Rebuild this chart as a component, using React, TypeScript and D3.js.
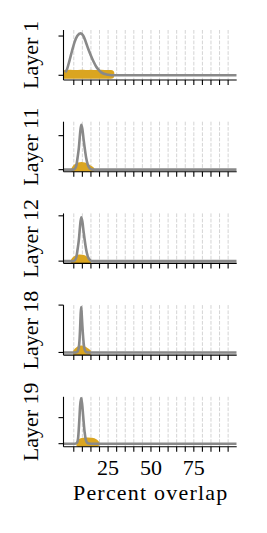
import React from "react";
import * as d3 from "d3";

const layerNames = ["Layer 1", "Layer 11", "Layer 12", "Layer 18", "Layer 19"];

const xTickValues = [5, 10, 15, 20, 25, 30, 35, 40, 45, 50, 55, 60, 65, 70, 75, 80, 85, 90, 95];
const xLabeledTicks = [25, 50, 75];
const xLabel = "Percent overlap";

// y tick values (unlabeled) and y domains per layer
const yTicksPerLayer = [
  [0, 0.08],
  [0, 0.2],
  [0, 0.3],
  [0, 0.5],
  [0, 0.2],
];
const yDomains = [
  [-0.0096, 0.0923],
  [-0.012, 0.282],
  [-0.015, 0.316],
  [-0.028, 0.5],
  [-0.024, 0.36],
];

// Grey density curves: [percent, density]
const density1: [number, number][] = [
  [0, 0.006], [1, 0.012], [2.5, 0.03], [4, 0.05], [5.5, 0.068], [7, 0.08], [9, 0.0855],
  [10.5, 0.081], [12, 0.068], [13.5, 0.053], [15, 0.04], [16.5, 0.028], [18, 0.018],
  [19.5, 0.011], [21, 0.006], [23, 0.0025], [25, 0.001], [27, 0.0002], [30, 0], [100, 0],
];
const density11: [number, number][] = [
  [-1, 0], [4.5, 0], [5.5, 0.004], [6.5, 0.025], [7.2, 0.07], [8, 0.132], [8.6, 0.205],
  [9.3, 0.264], [10, 0.24], [10.7, 0.18], [11.3, 0.132], [12.2, 0.07], [13.2, 0.028],
  [14.3, 0.008], [15.5, 0.001], [17, 0], [100, 0],
];
const density12: [number, number][] = [
  [-1, 0], [4.5, 0], [5.5, 0.004], [6.5, 0.027], [7.2, 0.077], [8, 0.145], [8.6, 0.225],
  [9.3, 0.29], [10, 0.262], [10.7, 0.197], [11.3, 0.145], [12.2, 0.077], [13.2, 0.03],
  [14.3, 0.009], [15.5, 0.001], [17, 0], [100, 0],
];
const density18: [number, number][] = [
  [-1, 0], [6, 0], [7, 0.005], [7.8, 0.04], [8.3, 0.12], [8.7, 0.26], [9.0, 0.4], [9.3, 0.48],
  [9.6, 0.41], [10, 0.28], [10.5, 0.15], [11, 0.06], [11.7, 0.015], [12.5, 0.002], [13.5, 0],
  [100, 0],
];
const density19: [number, number][] = [
  [-1, 0], [5.8, 0], [6.8, 0.006], [7.5, 0.04], [8.2, 0.175], [8.7, 0.29], [9.3, 0.35],
  [9.9, 0.3], [10.7, 0.175], [11.3, 0.09], [12, 0.03], [12.8, 0.007], [13.8, 0.001], [15, 0],
  [100, 0],
];

// Gold filled distributions: [percent, density]
const gold1: [number, number][] = [
  [0, 0.0037], [3, 0.004], [6, 0.0036], [9, 0.0042], [12, 0.0038], [15, 0.004], [18, 0.0036],
  [21, 0.004], [24, 0.0037], [26.6, 0.0035],
];
const gold11: [number, number][] = [
  [5.5, 0], [6, 0.008], [7, 0.017], [8, 0.022], [9.5, 0.024], [11, 0.022], [12.5, 0.015],
  [14, 0.006], [15, 0],
];
const gold12: [number, number][] = [
  [5.2, 0], [5.8, 0.009], [6.8, 0.017], [8.3, 0.021], [9.8, 0.02], [11.2, 0.014], [12.4, 0.006],
  [13.1, 0],
];
const gold18: [number, number][] = [
  [6.5, 0], [7.2, 0.016], [8.2, 0.03], [9.3, 0.036], [10.5, 0.031], [11.8, 0.016], [13.1, 0],
];
const gold19: [number, number][] = [
  [8.4, 0], [9, 0.012], [10.5, 0.019], [13, 0.02], [15.5, 0.019], [17.2, 0.011], [18, 0],
];

const densities = [density1, density11, density12, density18, density19];
const golds = [gold1, gold11, gold12, gold18, gold19];

const W = 267;
const H = 533;
const LEFT = 63.5;
const RIGHT = 236.7;
const PANEL_TOP0 = 30;
const PANEL_STEP = 91.7;
const PANEL_H = 50;
const FONT = "'Liberation Serif', 'Times New Roman', serif";
const GOLD = "#DAA520";
const GREY = "#898989";

export default function App() {
  const x = d3.scaleLinear().domain([-1, 100]).range([LEFT, RIGHT]);
  const n = layerNames.length;
  const lastBottom = PANEL_TOP0 + (n - 1) * PANEL_STEP + PANEL_H;

  return (
    <svg
      width={W}
      height={H}
      style={{ position: "absolute", left: 0, top: 0, background: "#fff" }}
      fontFamily={FONT}
    >
      <rect x={0} y={0} width={W} height={H} fill="#fff" />
      {layerNames.map((name, i) => {
        const top = PANEL_TOP0 + i * PANEL_STEP;
        const bottom = top + PANEL_H;
        const y = d3.scaleLinear().domain(yDomains[i]).range([bottom, top]);
        const line = d3
          .line<[number, number]>()
          .x((d) => x(d[0]))
          .y((d) => y(d[1]))
          .curve(d3.curveMonotoneX);
        const area = d3
          .area<[number, number]>()
          .x((d) => x(d[0]))
          .y0(() => y(0))
          .y1((d) => y(d[1]))
          .curve(d3.curveMonotoneX);
        const clipId = `clip-${i}`;
        return (
          <g key={name}>
            <defs>
              <clipPath id={clipId}>
                <rect x={LEFT} y={top} width={RIGHT - LEFT} height={PANEL_H} />
              </clipPath>
            </defs>
            {/* grid */}
            {xTickValues.map((t) => (
              <line
                key={t}
                x1={x(t)}
                x2={x(t)}
                y1={top}
                y2={bottom}
                stroke="#d4d4d4"
                strokeWidth={1}
                strokeDasharray="3.7,1.6"
              />
            ))}
            <g clipPath={`url(#${clipId})`}>
              <path
                d={area(golds[i]) || ""}
                fill={GOLD}
                stroke={GOLD}
                strokeWidth={7}
                strokeLinejoin="round"
              />
              <path
                d={line(densities[i]) || ""}
                fill="none"
                stroke={GREY}
                strokeWidth={2.6}
                strokeLinejoin="round"
              />
            </g>
            {/* spines */}
            <line x1={LEFT} x2={LEFT} y1={top} y2={bottom} stroke="#000" strokeWidth={1.1} />
            <line x1={LEFT} x2={RIGHT} y1={bottom} y2={bottom} stroke="#000" strokeWidth={1.1} />
            {/* y ticks */}
            {yTicksPerLayer[i].map((t) => (
              <line
                key={t}
                x1={LEFT - 5}
                x2={LEFT}
                y1={y(t)}
                y2={y(t)}
                stroke="#000"
                strokeWidth={1.1}
              />
            ))}
            {/* x ticks */}
            {xTickValues.map((t) => (
              <line
                key={t}
                x1={x(t)}
                x2={x(t)}
                y1={bottom}
                y2={bottom + 5}
                stroke="#000"
                strokeWidth={1.1}
              />
            ))}
            {/* y label */}
            <text
              transform={`translate(38,${(top + bottom) / 2}) rotate(-90)`}
              textAnchor="middle"
              fontSize={22}
              fill="#000"
            >
              {name}
            </text>
          </g>
        );
      })}
      {xLabeledTicks.map((t) => (
        <text
          key={t}
          x={x(t)}
          y={lastBottom + 28.5}
          textAnchor="middle"
          fontSize={22}
          fill="#000"
        >
          {String(t)}
        </text>
      ))}
      <text
        x={(LEFT + RIGHT) / 2 + 0.6}
        y={lastBottom + 53.5}
        textAnchor="middle"
        fontSize={22}
        letterSpacing={1.2}
        fill="#000"
      >
        {xLabel}
      </text>
    </svg>
  );
}
